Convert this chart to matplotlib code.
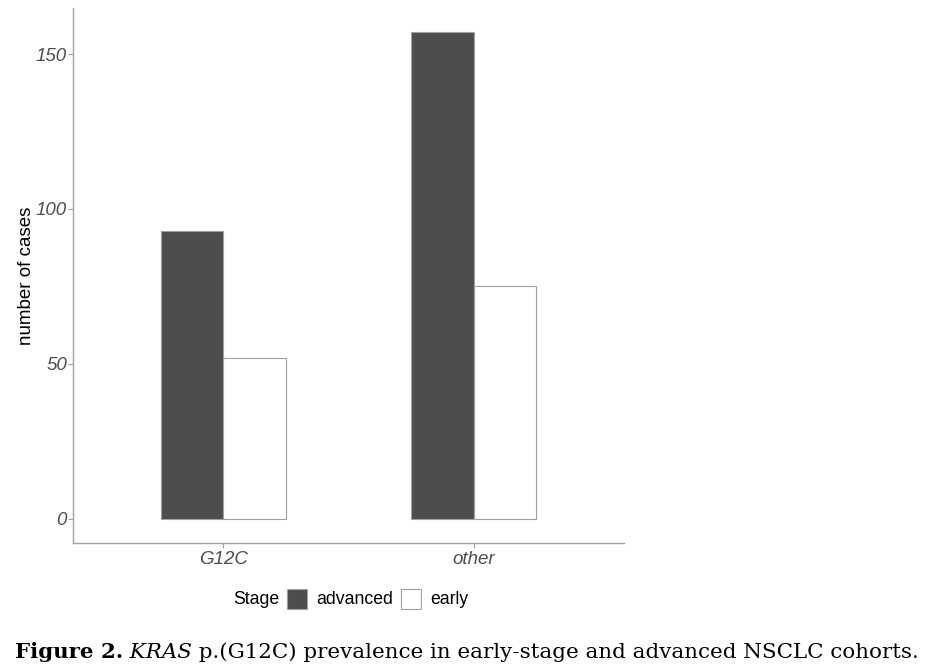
import matplotlib
matplotlib.use("Agg")
import matplotlib.pyplot as plt
import numpy as np
from matplotlib.patches import Rectangle

categories = ["G12C", "other"]
stages = ["advanced", "early"]
advanced = [93, 157]
early = [52, 75]
yticks = [0, 50, 100, 150]
fills = {"advanced": "#4D4D4D", "early": "white"}

plt.rcParams['font.family'] = ['Liberation Sans', 'DejaVu Sans']

W, H = 931, 672
fig = plt.figure(figsize=(W/100, H/100), dpi=100)
ax = fig.add_axes([73/W, 1-543/H, (624-73)/W, (543-8)/H])

x = np.arange(1, len(categories)+1)
w = 0.25
edge = '#A0A0A0'
ax.bar(x - w/2, advanced, w, color=fills["advanced"], edgecolor=edge, linewidth=0.8)
ax.bar(x + w/2, early, w, color=fills["early"], edgecolor=edge, linewidth=0.8)

ymax = max(advanced + early)
ax.set_ylim(-0.05*ymax, 1.05*ymax)
ax.set_xlim(0.4, 2.6)
ax.set_xticks(x)
ax.set_xticklabels(categories, fontstyle='italic', fontsize=13.5)
ax.set_yticks(yticks)
ax.set_yticklabels([str(t) for t in yticks], fontstyle='italic', fontsize=13.5)
ax.tick_params(axis='both', colors='#A0A0A0', length=3.5, width=0.8, labelcolor='#4D4D4D')
ax.tick_params(axis='x', pad=2.5)
ax.tick_params(axis='y', pad=0.8)
for s in ['top', 'right']:
    ax.spines[s].set_visible(False)
for s in ['left', 'bottom']:
    ax.spines[s].set_color('#A0A0A0')
    ax.spines[s].set_linewidth(1.0)
ax.set_ylabel('number of cases', fontsize=13.5, color='black')
ax.yaxis.set_label_coords((35-73)/(624-73), 0.5)

# manual legend (horizontal, title at left)
ly = 1 - 599/H
lfs = 12.7
fig.text(233/W, ly, "Stage", fontsize=lfs, va='center', ha='left')
key_pos = {"advanced": 287, "early": 401}
for st in stages:
    kx = key_pos[st]
    fig.add_artist(Rectangle((kx/W, 1-609/H), 20/W, 20/H, transform=fig.transFigure,
                             facecolor=fills[st], edgecolor=edge, linewidth=0.8))
    fig.text((kx+29)/W, ly, st, fontsize=lfs, va='center', ha='left')

# caption
fig.canvas.draw()
r = fig.canvas.get_renderer()
parts = [("Figure 2.", dict(fontweight='bold')),
         (" KRAS", dict(fontstyle='italic')),
         (" p.(G12C) prevalence in early-stage and advanced NSCLC cohorts.", dict())]
fam = ['DejaVu Serif']
def draw_caption(fs, keep):
    xpos = 15
    arts = []
    for txt, kw in parts:
        t = fig.text(xpos/W, 1-658/H, txt, fontsize=fs, family=fam, va='baseline', ha='left', **kw)
        bb = t.get_window_extent(renderer=r)
        xpos += bb.width
        arts.append(t)
    if not keep:
        for a in arts:
            a.remove()
    return xpos - 15
fs0 = 14
width0 = draw_caption(fs0, False)
draw_caption(fs0 * 905 / width0, True)

fig.savefig('out.png', dpi=100)
